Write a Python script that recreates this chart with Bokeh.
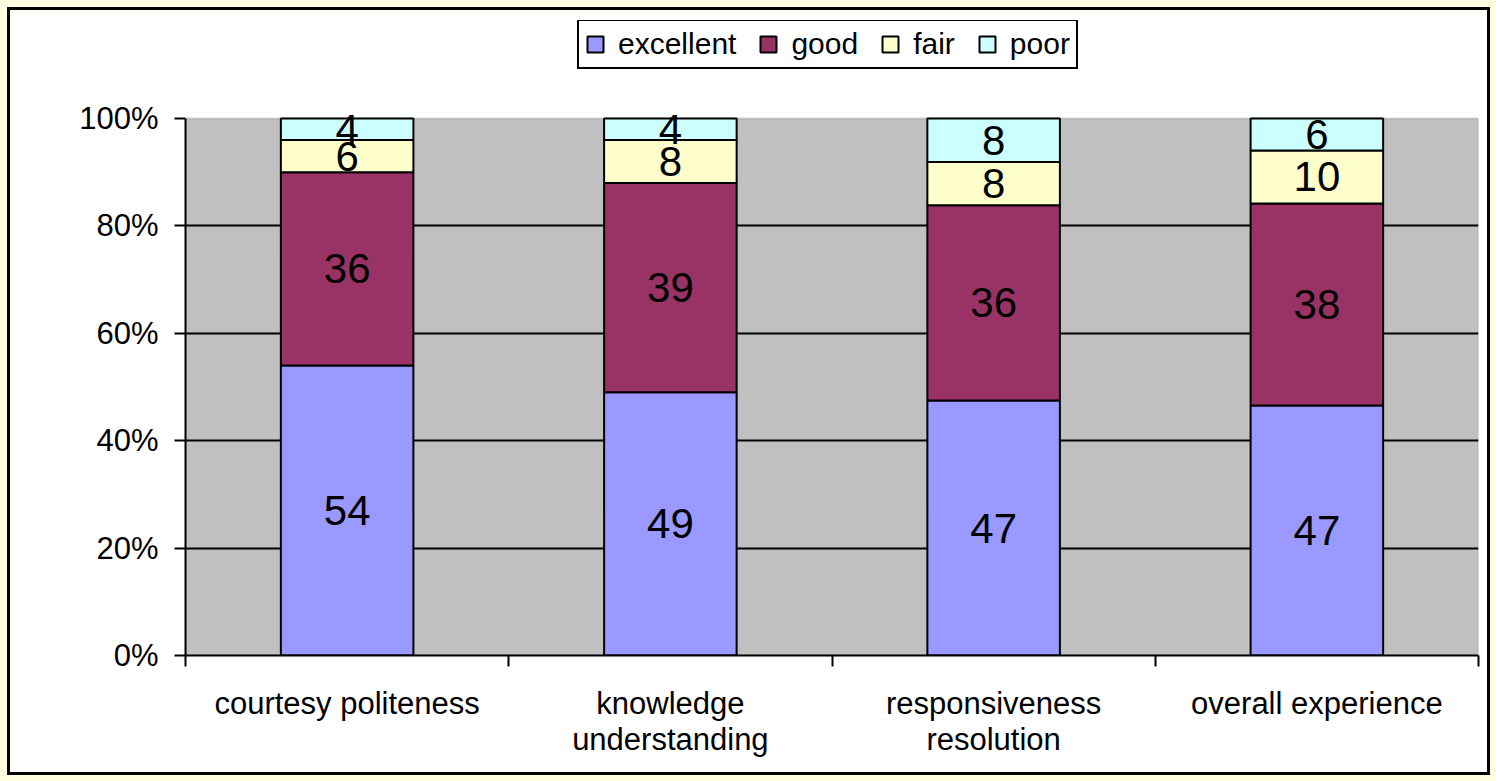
from bokeh.plotting import figure
from bokeh.models import Range1d, FixedTicker, NumeralTickFormatter, ColumnDataSource, Legend, BoxAnnotation
from bokeh.core.properties import value
from bokeh.embed import file_html
from bokeh.resources import INLINE

categories = ["courtesy politeness", "knowledge\nunderstanding", "responsiveness\nresolution", "overall experience"]
series = ["excellent", "good", "fair", "poor"]
excellent = [54, 49, 47, 47]
good = [36, 39, 36, 38]
fair = [6, 8, 8, 10]
poor = [4, 4, 8, 6]
colors = ["#9999FF", "#993366", "#FFFFCC", "#CCFFFF"]
y_ticks = [0, 0.2, 0.4, 0.6, 0.8, 1.0]

FONT = "Liberation Sans"
values_by_series = [excellent, good, fair, poor]
n = len(categories)
xs = [i + 0.5 for i in range(n)]
totals = [sum(v[i] for v in values_by_series) for i in range(n)]

# layout: canvas 1483x768; frame spans canvas y 10..645; the 0..100% band occupies the lower 537 px
W, H = 1483, 768
TOP = 10
BOTTOM = 123
FRAME_H = H - BOTTOM - TOP
BAND_H = 537
y_end = FRAME_H / BAND_H

p = figure(width=W, height=H, output_backend="svg", toolbar_location=None,
           x_range=Range1d(0, n), y_range=Range1d(0, y_end),
           min_border_left=175, min_border_right=15, min_border_top=TOP, min_border_bottom=BOTTOM)
p.styles = {"border": "3px solid black"}
p.background_fill_color = "white"
p.border_fill_color = "white"
p.outline_line_color = None

# gray plot area (0..100%)
p.add_layout(BoxAnnotation(left=0, right=n, bottom=0, top=1, fill_color="#C0C0C0", fill_alpha=1,
                           line_color="#808080", line_width=2, level="image"))

bottoms = [0.0] * n
renderers = []
for name, vals, col in zip(series, values_by_series, colors):
    frac = [vals[i] / totals[i] for i in range(n)]
    tops = [bottoms[i] + frac[i] for i in range(n)]
    mids = [(bottoms[i] + tops[i]) / 2 for i in range(n)]
    src = ColumnDataSource(dict(x=xs, bottom=list(bottoms), top=tops, mid=mids,
                                label=[str(v) for v in vals]))
    r = p.vbar(x="x", bottom="bottom", top="top", width=0.41, source=src,
               fill_color=col, line_color="black", line_width=2)
    renderers.append((name, [r]))
    p.text(x="x", y="mid", text="label", source=src, text_align="center",
           text_baseline="middle", text_font=value(FONT), text_font_size="42px",
           text_color="black")
    bottoms = tops

p.xgrid.visible = False
p.ygrid.ticker = FixedTicker(ticks=y_ticks[1:-1])
p.ygrid.grid_line_color = "black"
p.ygrid.grid_line_width = 2

xa = p.xaxis[0]
xa.ticker = FixedTicker(ticks=xs, minor_ticks=list(range(n + 1)))
xa.major_label_overrides = {x: c for x, c in zip(xs, categories)}
xa.major_tick_out = 0
xa.major_tick_in = 0
xa.minor_tick_out = 11
xa.minor_tick_in = 0
xa.minor_tick_line_color = "black"
xa.minor_tick_line_width = 2
xa.axis_line_color = "black"
xa.axis_line_width = 2
xa.major_label_text_font = FONT
xa.major_label_text_font_size = "31px"
xa.major_label_text_color = "black"
xa.major_label_text_line_height = 1.05
xa.major_label_standoff = 19

ya = p.yaxis[0]
ya.bounds = (0, 1)
ya.ticker = FixedTicker(ticks=y_ticks)
ya.formatter = NumeralTickFormatter(format="0%")
ya.major_tick_out = 11
ya.major_tick_in = 0
ya.minor_tick_line_color = None
ya.major_tick_line_color = "black"
ya.major_tick_line_width = 2
ya.axis_line_color = "black"
ya.axis_line_width = 2
ya.major_label_text_font = FONT
ya.major_label_text_font_size = "31px"
ya.major_label_text_color = "black"
ya.major_label_standoff = 16

legend = Legend(items=renderers, orientation="horizontal", location=(392, 586))
legend.border_line_color = "black"
legend.border_line_alpha = 1
legend.border_line_width = 2
legend.background_fill_color = "white"
legend.background_fill_alpha = 1
legend.label_text_font = FONT
legend.label_text_font_size = "30px"
legend.label_text_color = "black"
legend.glyph_width = 20
legend.glyph_height = 20
legend.label_standoff = 13
legend.spacing = 22
legend.padding = 6
legend.margin = 0
p.add_layout(legend, "center")

html = file_html(p, INLINE)
html = html.replace("</head>", "<style>html, body { background: #FFFFE0; } body { padding: 7px 0 0 7px !important; }</style></head>", 1)
open("out.html", "w").write(html)
